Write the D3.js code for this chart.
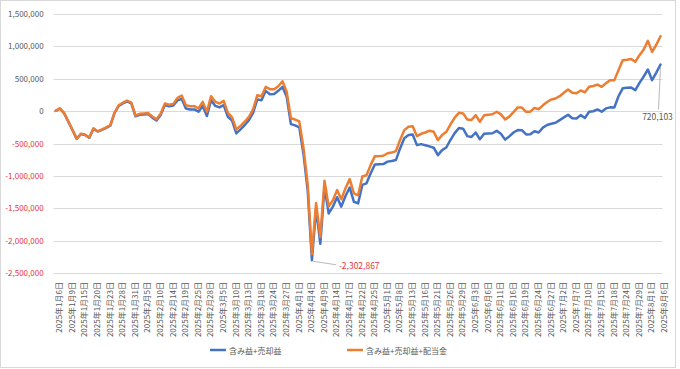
<!DOCTYPE html>
<html><head><meta charset="utf-8">
<script src="https://cdn.jsdelivr.net/npm/d3@7/dist/d3.min.js"></script>
<style>body{margin:0;background:#fff}svg{display:block}</style>
</head><body>
<svg id="chart" width="680" height="369"></svg>
<script>
const dates = [
"2025年1月6日","2025年1月7日","2025年1月8日","2025年1月9日","2025年1月10日","2025年1月14日","2025年1月15日","2025年1月16日","2025年1月17日","2025年1月20日","2025年1月21日","2025年1月22日","2025年1月23日","2025年1月24日","2025年1月27日","2025年1月28日","2025年1月29日","2025年1月30日","2025年1月31日",
"2025年2月3日","2025年2月4日","2025年2月5日","2025年2月6日","2025年2月7日","2025年2月10日","2025年2月12日","2025年2月13日","2025年2月14日","2025年2月17日","2025年2月18日","2025年2月19日","2025年2月20日","2025年2月21日","2025年2月25日","2025年2月26日","2025年2月27日","2025年2月28日",
"2025年3月3日","2025年3月4日","2025年3月5日","2025年3月6日","2025年3月7日","2025年3月10日","2025年3月11日","2025年3月12日","2025年3月13日","2025年3月14日","2025年3月17日","2025年3月18日","2025年3月19日","2025年3月21日","2025年3月24日","2025年3月25日","2025年3月26日","2025年3月27日","2025年3月28日","2025年3月31日",
"2025年4月1日","2025年4月2日","2025年4月3日","2025年4月4日","2025年4月7日","2025年4月8日","2025年4月9日","2025年4月10日","2025年4月11日","2025年4月14日","2025年4月15日","2025年4月16日","2025年4月17日","2025年4月18日","2025年4月21日","2025年4月22日","2025年4月23日","2025年4月24日","2025年4月25日","2025年4月28日","2025年4月30日",
"2025年5月1日","2025年5月2日","2025年5月7日","2025年5月8日","2025年5月9日","2025年5月12日","2025年5月13日","2025年5月14日","2025年5月15日","2025年5月16日","2025年5月19日","2025年5月20日","2025年5月21日","2025年5月22日","2025年5月23日","2025年5月26日","2025年5月27日","2025年5月28日","2025年5月29日","2025年5月30日",
"2025年6月2日","2025年6月3日","2025年6月4日","2025年6月5日","2025年6月6日","2025年6月9日","2025年6月10日","2025年6月11日","2025年6月12日","2025年6月13日","2025年6月16日","2025年6月17日","2025年6月18日","2025年6月19日","2025年6月20日","2025年6月23日","2025年6月24日","2025年6月25日","2025年6月26日","2025年6月27日","2025年6月30日",
"2025年7月1日","2025年7月2日","2025年7月3日","2025年7月4日","2025年7月7日","2025年7月8日","2025年7月9日","2025年7月10日","2025年7月11日","2025年7月14日","2025年7月15日","2025年7月16日","2025年7月17日","2025年7月18日","2025年7月22日","2025年7月23日","2025年7月24日","2025年7月25日","2025年7月28日","2025年7月29日","2025年7月30日","2025年7月31日",
"2025年8月1日","2025年8月4日","2025年8月5日","2025年8月6日"
];

const tickLabels = [
"2025年1月6日","2025年1月9日","2025年1月15日","2025年1月20日","2025年1月23日","2025年1月28日","2025年1月31日","2025年2月5日","2025年2月10日","2025年2月14日","2025年2月19日","2025年2月25日","2025年2月28日",
"2025年3月5日","2025年3月10日","2025年3月13日","2025年3月18日","2025年3月24日","2025年3月27日","2025年4月1日","2025年4月4日","2025年4月9日","2025年4月14日","2025年4月17日","2025年4月22日","2025年4月25日",
"2025年5月1日","2025年5月8日","2025年5月13日","2025年5月16日","2025年5月21日","2025年5月26日","2025年5月29日","2025年6月3日","2025年6月6日","2025年6月11日","2025年6月16日","2025年6月19日","2025年6月24日","2025年6月27日",
"2025年7月2日","2025年7月7日","2025年7月10日","2025年7月15日","2025年7月18日","2025年7月24日","2025年7月29日","2025年8月1日","2025年8月6日"
];

// 含み益+売却益 (yen)
const gainSold = [
3000,40000,-32000,-162000,-292000,-428000,-353000,-368000,-412000,-271000,-316000,-290000,-257000,-225000,-32000,82000,120000,152000,118000,
-80000,-56000,-52000,-46000,-100000,-145000,-58000,95000,74000,86000,165000,190000,41000,26000,26000,-10000,80000,-75000,
169000,80000,57000,95000,-87000,-145000,-344000,-282000,-215000,-139000,-26000,180000,169000,313000,262000,265000,313000,374000,221000,-200000,
-220000,-250000,-665000,-1225000,-2302867,-1505000,-2050000,-1170000,-1580000,-1475000,-1330000,-1475000,-1310000,-1180000,-1400000,-1425000,-1140000,-1115000,-960000,-825000,-822000,
-818000,-780000,-770000,-756000,-576000,-420000,-370000,-362000,-525000,-510000,-528000,-545000,-565000,-680000,-602000,-562000,-445000,-340000,-262000,-272000,
-386000,-398000,-330000,-435000,-350000,-345000,-342000,-305000,-350000,-440000,-390000,-330000,-293000,-295000,-360000,-358000,-310000,-330000,-255000,-215000,-195000,
-180000,-139000,-97000,-55000,-110000,-115000,-62000,-105000,-10000,-2000,26000,-10000,42000,58000,55000,230000,352000,362000,365000,324000,437000,535000,
643000,478000,595000,720103
];

// 含み益+売却益+配当金 (yen)
const gainSoldDiv = [
5000,42000,-30000,-160000,-290000,-425000,-350000,-365000,-408000,-267000,-312000,-284000,-251000,-218000,-25000,90000,130000,164000,130000,
-67000,-42000,-36000,-30000,-82000,-125000,-36000,118000,98000,112000,205000,240000,92000,77000,77000,41000,143000,-10000,
231000,143000,118000,159000,-26000,-97000,-282000,-231000,-164000,-87000,26000,246000,231000,374000,339000,339000,385000,462000,298000,-110000,
-130000,-160000,-570000,-1130000,-2210000,-1420000,-1945000,-1075000,-1475000,-1375000,-1220000,-1360000,-1190000,-1050000,-1270000,-1300000,-1010000,-990000,-830000,-695000,-695000,
-690000,-650000,-640000,-617000,-447000,-293000,-240000,-232000,-386000,-350000,-330000,-302000,-318000,-447000,-370000,-320000,-205000,-100000,-26000,-35000,
-128000,-138000,-62000,-164000,-65000,-55000,-48000,-10000,-50000,-128000,-85000,-15000,57000,55000,-10000,-8000,50000,30000,90000,140000,180000,
195000,231000,283000,334000,283000,275000,320000,290000,375000,388000,410000,375000,430000,478000,475000,633000,787000,795000,805000,762000,864000,952000,
1085000,915000,1025000,1157000
];

const yTicks = [1500000,1000000,500000,0,-500000,-1000000,-1500000,-2000000,-2500000];
const seriesNames = ["含み益+売却益","含み益+売却益+配当金"];
const seriesColors = ["#4472C4","#ED7D31"];

const svg = d3.select("#chart");
const font = "'Noto Sans CJK JP','Noto Sans',sans-serif";
const W = 680, H = 369;
const plot = {left: 53.6, right: 662.6, top: 14, bottom: 273};

svg.append("rect").attr("x",0.5).attr("y",0.5).attr("width",675).attr("height",367)
  .attr("fill","#fff").attr("stroke","#d9d9d9");

const x = d3.scaleBand().domain(dates).range([plot.left, plot.right]).padding(0);
const cx = d => x(d) + x.bandwidth()/2;
const y = d3.scaleLinear().domain([-2500000,1500000]).range([plot.bottom, plot.top]);

const loc = d3.formatLocale({decimal:".", thousands:",", grouping:[3], currency:["",""], minus:"-"});
const fmt = loc.format(",");

// gridlines
svg.append("g").selectAll("line").data(yTicks).join("line")
  .attr("x1",plot.left).attr("x2",plot.right)
  .attr("y1",d=>Math.round(y(d))+0.5).attr("y2",d=>Math.round(y(d))+0.5)
  .attr("stroke","#d9d9d9").attr("stroke-width",1);

// y axis
const yAxis = svg.append("g").attr("transform",`translate(${plot.left},0)`)
  .call(d3.axisLeft(y).tickValues(yTicks).tickFormat(fmt).tickSize(0).tickPadding(10));
yAxis.select(".domain").remove();
yAxis.selectAll("text").attr("font-family",font).attr("font-size",8)
  .attr("fill",d=>d<0?"#e8343c":"#595959");

// x axis labels
const xAxis = svg.append("g").attr("transform",`translate(0,${plot.bottom})`)
  .call(d3.axisBottom(x).tickValues(tickLabels).tickSize(0).tickPadding(0));
xAxis.select(".domain").remove();
xAxis.selectAll(".tick text")
  .attr("font-family",font).attr("font-size",8).attr("fill","#595959")
  .attr("text-anchor","end").attr("dominant-baseline","central")
  .attr("transform","translate(3,9) rotate(-90)").attr("x",0).attr("y",0).attr("dy",null);

// lines
const line = d3.line().x((d,i)=>cx(dates[i])).y(d=>y(d));
[gainSold, gainSoldDiv].forEach((s,k)=>{
  svg.append("path").datum(s).attr("d",line).attr("fill","none")
    .attr("stroke",seriesColors[k]).attr("stroke-width",2.5)
    .attr("stroke-linejoin","round").attr("stroke-linecap","round");
});

// min data label
const minIdx = d3.minIndex(gainSold);
const mx = cx(dates[minIdx]), my = y(gainSold[minIdx]);
svg.append("line").attr("x1",mx+1).attr("y1",my+1).attr("x2",mx+24).attr("y2",my+4.5)
  .attr("stroke","#a6a6a6").attr("stroke-width",0.8);
svg.append("text").attr("x",mx+27).attr("y",my+4.5).attr("dominant-baseline","central")
  .attr("font-family",font).attr("font-size",8.5).attr("fill","#e8343c").text(fmt(gainSold[minIdx]));

// last data label
const li = gainSold.length-1;
const lx = cx(dates[li]), ly = y(gainSold[li]);
svg.append("line").attr("x1",lx).attr("y1",ly+2).attr("x2",lx-2).attr("y2",ly+45)
  .attr("stroke","#a6a6a6").attr("stroke-width",0.8);
svg.append("text").attr("x",lx-3).attr("y",ly+52).attr("text-anchor","middle").attr("dominant-baseline","central")
  .attr("font-family",font).attr("font-size",8.5).attr("fill","#595959").text(fmt(gainSold[li]));

// legend
const legendX = [210, 347];
seriesNames.forEach((n,k)=>{
  const g = svg.append("g").attr("transform",`translate(${legendX[k]},350)`);
  g.append("line").attr("x1",0).attr("x2",16).attr("y1",0).attr("y2",0)
    .attr("stroke",seriesColors[k]).attr("stroke-width",2.5);
  g.append("text").attr("x",19).attr("y",0).attr("dominant-baseline","central")
    .attr("font-family",font).attr("font-size",8).attr("fill","#595959").text(n);
});
</script>
</body></html>
